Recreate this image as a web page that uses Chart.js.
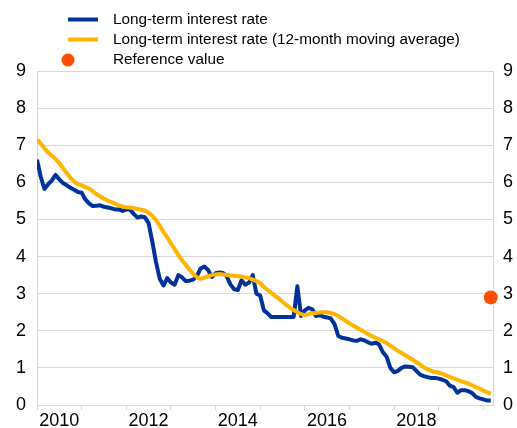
<!DOCTYPE html>
<html>
<head>
<meta charset="utf-8">
<script src="https://cdn.jsdelivr.net/npm/chart.js@4"></script>
<style>
  html, body { margin: 0; padding: 0; background: #fff; }
  #wrap { width: 517px; height: 428px; }
</style>
</head>
<body>
<div id="wrap"><canvas id="chart" width="517" height="428"></canvas></div>
<script>
// monthly data, Jan 2010 - Mar 2020
const startYear = 2010;
const yearLabels = ['2010', '2012', '2014', '2016', '2018'];

const ltRate = [
  6.61, 6.15, 5.82, 5.95, 6.05, 6.20, 6.08, 5.98, 5.92, 5.85, 5.80, 5.74,
  5.72, 5.54, 5.43, 5.36, 5.37, 5.38, 5.34, 5.32, 5.30, 5.27, 5.27, 5.23,
  5.27, 5.27, 5.15, 5.05, 5.08, 5.06, 4.90, 4.40, 3.85, 3.40, 3.22, 3.42,
  3.30, 3.24, 3.50, 3.44, 3.34, 3.35, 3.38, 3.48, 3.68, 3.73, 3.64, 3.45,
  3.55, 3.57, 3.56, 3.47, 3.25, 3.12, 3.10, 3.36, 3.24, 3.30, 3.50, 3.00,
  2.95, 2.55, 2.47, 2.37, 2.37, 2.37, 2.37, 2.37, 2.37, 2.37, 3.20, 2.40,
  2.55, 2.62, 2.58, 2.40, 2.42, 2.38, 2.36, 2.33, 2.18, 1.86, 1.81, 1.79,
  1.77, 1.74, 1.73, 1.77, 1.74, 1.69, 1.65, 1.68, 1.63, 1.42, 1.30, 1.00,
  0.88, 0.92, 1.00, 1.04, 1.03, 1.02, 0.92, 0.82, 0.78, 0.75, 0.73, 0.73,
  0.71, 0.68, 0.64, 0.52, 0.48, 0.33, 0.40, 0.40, 0.37, 0.32, 0.22, 0.18,
  0.15, 0.12, 0.12
];

const ltRateAvg = [
  7.15, 7.05, 6.92, 6.80, 6.72, 6.63, 6.52, 6.38, 6.25, 6.12, 6.02, 5.95,
  5.92, 5.87, 5.83, 5.76, 5.68, 5.62, 5.56, 5.51, 5.47, 5.42, 5.38, 5.35,
  5.33, 5.32, 5.30, 5.28, 5.26, 5.24, 5.18, 5.10, 4.98, 4.83, 4.66, 4.52,
  4.36, 4.20, 4.04, 3.90, 3.78, 3.65, 3.53, 3.44, 3.40, 3.43, 3.47, 3.50,
  3.52, 3.53, 3.52, 3.50, 3.49, 3.48, 3.47, 3.46, 3.44, 3.42, 3.38, 3.34,
  3.28, 3.18, 3.10, 3.02, 2.94, 2.87, 2.78, 2.70, 2.62, 2.56, 2.50, 2.45,
  2.42, 2.45, 2.47, 2.48, 2.49, 2.50, 2.50, 2.48, 2.45, 2.40, 2.33, 2.27,
  2.20, 2.14, 2.08, 2.03, 1.97, 1.91, 1.86, 1.81, 1.77, 1.72, 1.67, 1.60,
  1.53, 1.46, 1.40, 1.34, 1.28, 1.22, 1.15, 1.09, 1.02, 0.96, 0.92, 0.89,
  0.87, 0.84, 0.80, 0.76, 0.72, 0.68, 0.64, 0.61, 0.58, 0.53, 0.48, 0.44,
  0.39, 0.35, 0.30
];

const referenceValue = 2.9;

const toPoints = arr => arr.map((v, i) => ({ x: i, y: v }));

const gridColor = '#d9d9d9';
const axisFont = { family: '"Liberation Sans", Arial, sans-serif', size: 18 };

// legend drawn above the plot, one item per row
const rowLegend = {
  id: 'rowLegend',
  afterDraw(chart) {
    const ctx = chart.ctx;
    const rows = [19.5, 39.5, 60];
    ctx.save();
    ctx.font = '15.3px "Liberation Sans", Arial, sans-serif';
    ctx.textBaseline = 'middle';
    chart.data.datasets.forEach((ds, i) => {
      const y = rows[i];
      if (ds.showLine === false) {
        ctx.beginPath();
        ctx.arc(68, y, 6.5, 0, Math.PI * 2);
        ctx.fillStyle = ds.backgroundColor;
        ctx.fill();
      } else {
        ctx.fillStyle = ds.borderColor;
        ctx.fillRect(68, y - 2, 30, 4);
      }
      ctx.fillStyle = '#000';
      ctx.fillText(ds.label, 113, y);
    });
    ctx.restore();
  }
};

new Chart(document.getElementById('chart'), {
  type: 'line',
  data: {
    datasets: [
      {
        label: 'Long-term interest rate',
        data: toPoints(ltRate),
        borderColor: '#003299',
        borderWidth: 4,
        borderJoinStyle: 'round',
        pointRadius: 0,
        tension: 0,
        order: 2
      },
      {
        label: 'Long-term interest rate (12-month moving average)',
        data: toPoints(ltRateAvg),
        borderColor: '#ffb400',
        borderWidth: 4,
        borderJoinStyle: 'round',
        pointRadius: 0,
        tension: 0,
        order: 1
      },
      {
        label: 'Reference value',
        data: [{ x: ltRate.length - 1, y: referenceValue }],
        showLine: false,
        backgroundColor: '#ff4b00',
        borderWidth: 0,
        pointRadius: 7,
        clip: false,
        order: 0
      }
    ]
  },
  options: {
    responsive: false,
    animation: false,
    layout: { padding: { top: 71, left: 0, right: 0, bottom: 0 } },
    plugins: {
      legend: { display: false },
      tooltip: { enabled: false }
    },
    scales: {
      x: {
        type: 'linear',
        min: 0,
        max: 122.6,
        afterBuildTicks(axis) {
          const t = [];
          for (let v = 0; v <= 120; v += 6) t.push({ value: v });
          axis.ticks = t;
        },
        afterFit(axis) { axis.height = 23; },
        grid: {
          drawOnChartArea: false,
          drawTicks: true,
          tickLength: 5,
          color: ctx => (ctx.tick && ctx.tick.value % 12 === 0) ? gridColor : 'rgba(0,0,0,0)'
        },
        border: { display: true, color: gridColor },
        ticks: {
          autoSkip: false,
          maxRotation: 0,
          padding: 0,
          color: '#000',
          font: axisFont,
          callback(value) {
            if (value % 12 !== 6) return '';
            const y = String(startYear + (value - 6) / 12);
            return yearLabels.includes(y) ? y : '';
          }
        }
      },
      y: {
        position: 'left',
        min: 0,
        max: 9,
        afterFit(axis) { axis.width = 37; },
        grid: { color: gridColor, drawTicks: false },
        border: { display: true, color: gridColor },
        ticks: { stepSize: 1, padding: 11, color: '#000', font: axisFont }
      },
      y2: {
        position: 'right',
        min: 0,
        max: 9,
        afterFit(axis) { axis.width = 24; },
        grid: { drawOnChartArea: false, drawTicks: false },
        border: { display: true, color: gridColor },
        ticks: { stepSize: 1, padding: 10, color: '#000', font: axisFont }
      }
    }
  },
  plugins: [rowLegend]
});
</script>
</body>
</html>
